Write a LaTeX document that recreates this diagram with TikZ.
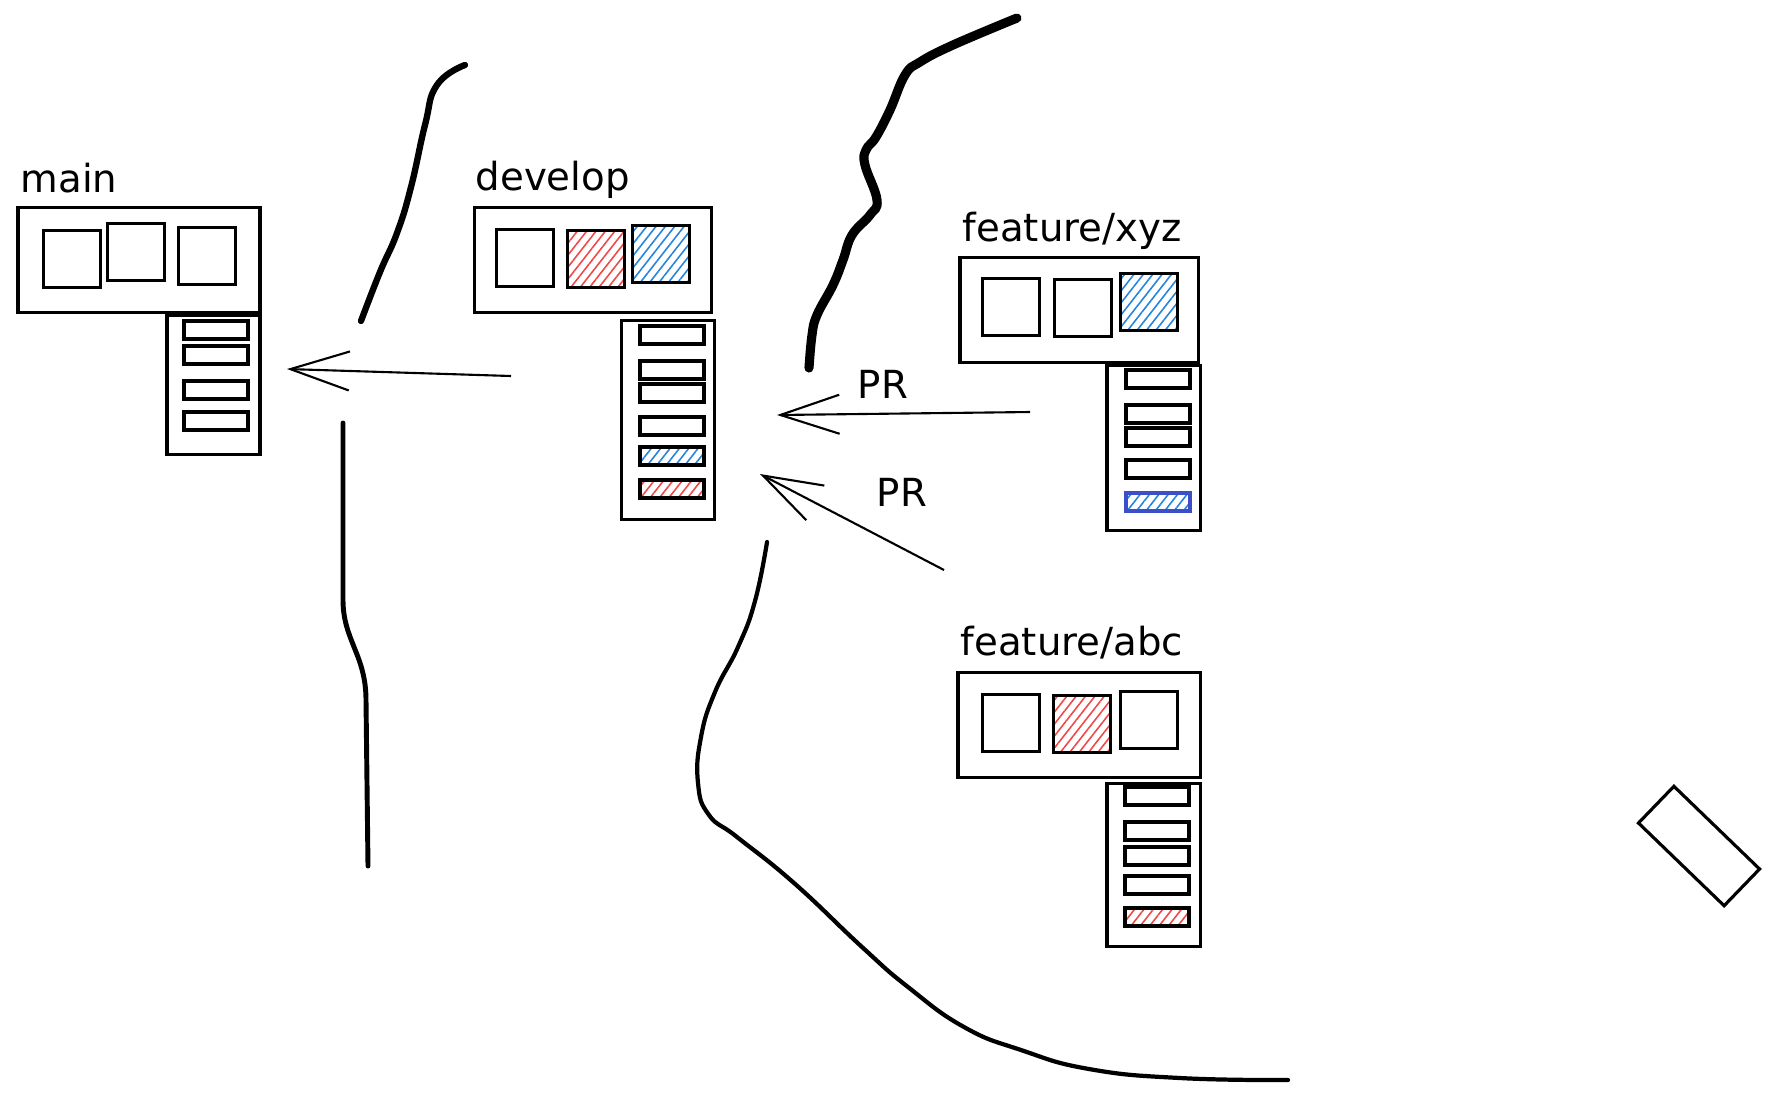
\documentclass[tikz,border=0pt]{standalone}
\usepackage{fontspec}
\setmainfont{DejaVu Sans}
\usetikzlibrary{arrows.meta,positioning,patterns.meta}
\definecolor{hatchred}{HTML}{F04848}
\definecolor{hatchblue}{HTML}{2484E0}
\definecolor{edgeblue}{HTML}{3B4FC9}
\begin{document}
\begin{tikzpicture}[x=0.01cm,y=-0.01cm,
branch/.style={draw,line width=0.9pt,minimum width=2.4cm,minimum height=1.05cm,inner sep=0},
loglist/.style={draw,line width=0.9pt,minimum width=0.93cm,inner sep=0},
commit/.style={draw,line width=1pt,minimum size=0.57cm,inner sep=0},
entry/.style={draw,line width=0.9pt,minimum width=0.64cm,minimum height=0.18cm,inner sep=0},
redh/.style={pattern={Lines[angle=52,distance=2.1pt,line width=0.45pt]},pattern color=hatchred},
blueh/.style={pattern={Lines[angle=52,distance=2.1pt,line width=0.45pt]},pattern color=hatchblue},
lbl/.style={font=\fontsize{11}{13}\selectfont,inner sep=0,anchor=base west},
arr/.style={line width=0.6pt,-{Straight Barb[length=5.9mm,width=3.9mm]}},
wall/.style={line cap=round,line join=round}]
\useasboundingbox (0,0) rectangle (1779,1102);
% main
\node[branch,minimum width=2.42cm] (mainbox) at (139,260) {};
\node[lbl] (mainlbl) at (20,192) {main};
\node[commit] (mainc1) at (72,259) {};
\node[commit] (mainc2) at (136,252) {};
\node[commit] (mainc3) at (207,256) {};
\node[loglist,minimum height=1.39cm,below left=0pt and 0pt of mainbox.south east] (mainlog) {};
\foreach \y [count=\i] in {330,355,390,421} \node[entry] (maine\i) at (216,\y) {};
% develop
\node[branch,minimum width=2.37cm] (devbox) at (593,260) {};
\node[lbl] (devlbl) at (475,190) {develop};
\node[commit] (devc1) at (525,258) {};
\node[commit,redh] (devc2) at (596,259) {};
\node[commit,blueh] (devc3) at (661,254) {};
\node[loglist,minimum height=1.99cm,below left=0.05cm and -0.03cm of devbox.south east] (devlog) {};
\foreach \y [count=\i] in {335,370,393,426} \node[entry] (deve\i) at (672,\y) {};
\node[entry,blueh] (deve5) at (672,456) {};
\node[entry,redh] (deve6) at (672,489) {};
% feature/xyz
\node[branch,minimum width=2.38cm] (xyzbox) at (1079,310) {};
\node[lbl] (xyzlbl) at (962,241) {feature/xyz};
\node[commit] (xyzc1) at (1011,307) {};
\node[commit] (xyzc2) at (1083,308) {};
\node[commit,blueh] (xyzc3) at (1149,302) {};
\node[loglist,minimum height=1.65cm,below left=0pt and -0.02cm of xyzbox.south east] (xyzlog) {};
\foreach \y [count=\i] in {379,414,437,469} \node[entry] (xyze\i) at (1158,\y) {};
\node[entry,blueh,draw=edgeblue] (xyze5) at (1158,502) {};
% feature/abc
\node[branch,minimum width=2.42cm] (abcbox) at (1079,725) {};
\node[lbl] (abclbl) at (960,655) {feature/abc};
\node[commit] (abcc1) at (1011,723) {};
\node[commit,redh] (abcc2) at (1082,724) {};
\node[commit] (abcc3) at (1149,720) {};
\node[loglist,minimum height=1.63cm,below left=0.03cm and 0pt of abcbox.south east] (abclog) {};
\foreach \y [count=\i] in {796,831,856,885} \node[entry] (abce\i) at (1157,\y) {};
\node[entry,redh] (abce5) at (1157,917) {};
% loose box
\node[draw,line width=0.9pt,minimum width=1.19cm,minimum height=0.51cm,rotate=-44] (spare) at (1699,846) {};
% merges
\coordinate (devout) at (511,376); \coordinate (mainin) at (287,369);
\coordinate (xyzout) at (1030,412); \coordinate (devin1) at (777,415);
\coordinate (abcout) at (944,570); \coordinate (devin2) at (760,474);
\draw[arr](devout)--(mainin);\draw[arr](xyzout)--(devin1);\draw[arr](abcout)--(devin2);
\node[lbl,anchor=center] (pr1) at (883,384) {PR};
\node[lbl,anchor=center] (pr2) at (902,492) {PR};
% walls
\draw[wall,line width=1.8pt] plot[smooth,tension=0.8] coordinates {(465,65) (437,85) (425,125) (411,187) (397,233) (380,272) (361,321)};
\draw[wall,line width=1.4pt] (343,423) -- (343,600) .. controls (343,640) and (366,655) .. (366,700) -- (368,866);
\draw[wall,line width=2.6pt] plot[smooth,tension=0.7] coordinates {(1017,18) (953,45) (920,62) (905,75) (890,110) (876,137) (866,150) (865,165) (877,200) (870,215) (852,235) (843,260) (833,285) (817,315) (812,335) (809,368)};
\draw[wall,line width=1.2pt] plot[smooth,tension=0.8] coordinates {(767,542) (755,601) (738,647) (715,692) (701,737) (698,783) (709,815) (737,837) (794,883) (862,947) (908,987) (964,1027) (1021,1050) (1089,1069) (1180,1078) (1288,1080)};
\end{tikzpicture}
\end{document}
